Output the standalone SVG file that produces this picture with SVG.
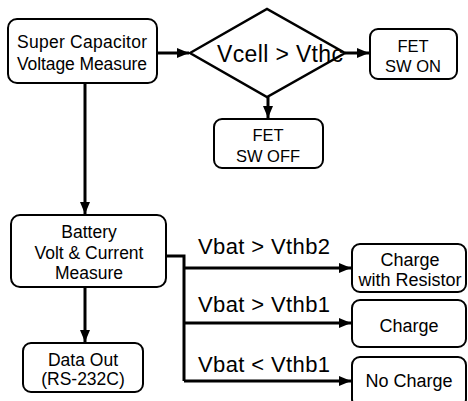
<svg xmlns="http://www.w3.org/2000/svg" width="468" height="401" viewBox="0 0 468 401">
<style>
.box{fill:#fff;stroke:#000;stroke-width:2}
.dia{fill:#fff;stroke:#000;stroke-width:2.5}
.t{font-family:"Liberation Sans",Arial,sans-serif;fill:#000;text-anchor:middle}
.c{fill:none;stroke:#000;stroke-width:3}
.lbl{font-family:"Liberation Sans",Arial,sans-serif;fill:#000;font-size:22px}
</style>
<defs>
<marker id="ah" markerUnits="userSpaceOnUse" markerWidth="13" markerHeight="12" refX="12" refY="6" orient="auto">
<path d="M0,1 L12,6 L0,11 z" fill="#000"/>
</marker>
</defs>
<g id="connectors">
<path class="c" d="M157,53 H189" marker-end="url(#ah)"/>
<path class="c" d="M345,53 H369" marker-end="url(#ah)"/>
<path class="c" d="M268,97 V118" marker-end="url(#ah)"/>
<path class="c" d="M85,83 V214" marker-end="url(#ah)"/>
<path class="c" d="M85,287 V342" marker-end="url(#ah)"/>
<path class="c" d="M166,256 H184 V381"/>
<path class="c" d="M184,268 H351" marker-end="url(#ah)"/>
<path class="c" d="M184,323 H351" marker-end="url(#ah)"/>
<path class="c" d="M184,381 H351" marker-end="url(#ah)"/>
</g>
<g id="supercap">
<rect class="box" x="8" y="19" width="149" height="64" rx="9"/>
<text class="t" x="82" y="48" font-size="17.5" textLength="130">Super Capacitor</text>
<text class="t" x="82" y="70" font-size="17.5" textLength="130">Voltage Measure</text>
</g>
<g id="decision">
<polygon class="dia" points="190,53 267,9 345,53 267,97"/>
<text class="t" x="280" y="62" font-size="23" textLength="126">Vcell &gt; Vthc</text>
</g>
<g id="fet-on">
<rect class="box" x="370" y="29" width="87" height="50" rx="8"/>
<text class="t" x="413" y="52" font-size="16.5">FET</text>
<text class="t" x="413" y="72" font-size="16.5">SW ON</text>
</g>
<g id="fet-off">
<rect class="box" x="214" y="119" width="109" height="49" rx="8"/>
<text class="t" x="268" y="141" font-size="16.5">FET</text>
<text class="t" x="268" y="162" font-size="16.5">SW OFF</text>
</g>
<g id="battery">
<rect class="box" x="11" y="215" width="155" height="72" rx="9"/>
<text class="t" x="89" y="238" font-size="17.5">Battery</text>
<text class="t" x="89" y="259" font-size="17.5">Volt &amp; Current</text>
<text class="t" x="89" y="279" font-size="17.5">Measure</text>
</g>
<g id="dataout">
<rect class="box" x="23" y="343" width="120" height="49" rx="8"/>
<text class="t" x="83" y="366" font-size="17.5">Data Out</text>
<text class="t" x="83" y="385" font-size="17.5">(RS-232C)</text>
</g>
<g id="labels">
<text class="lbl" x="198" y="254" textLength="132">Vbat &gt; Vthb2</text>
<text class="lbl" x="198" y="312" textLength="132">Vbat &gt; Vthb1</text>
<text class="lbl" x="198" y="372" textLength="132">Vbat &lt; Vthb1</text>
</g>
<g id="charge-res">
<rect class="box" x="352" y="244" width="114" height="48" rx="8"/>
<text class="t" x="410" y="266" font-size="18">Charge</text>
<text class="t" x="410" y="286" font-size="18">with Resistor</text>
</g>
<g id="charge">
<rect class="box" x="352" y="300" width="114" height="47" rx="8"/>
<text class="t" x="409" y="332" font-size="18">Charge</text>
</g>
<g id="nocharge">
<rect class="box" x="352" y="357" width="114" height="50" rx="8"/>
<text class="t" x="409" y="387" font-size="18">No Charge</text>
</g>
</svg>
